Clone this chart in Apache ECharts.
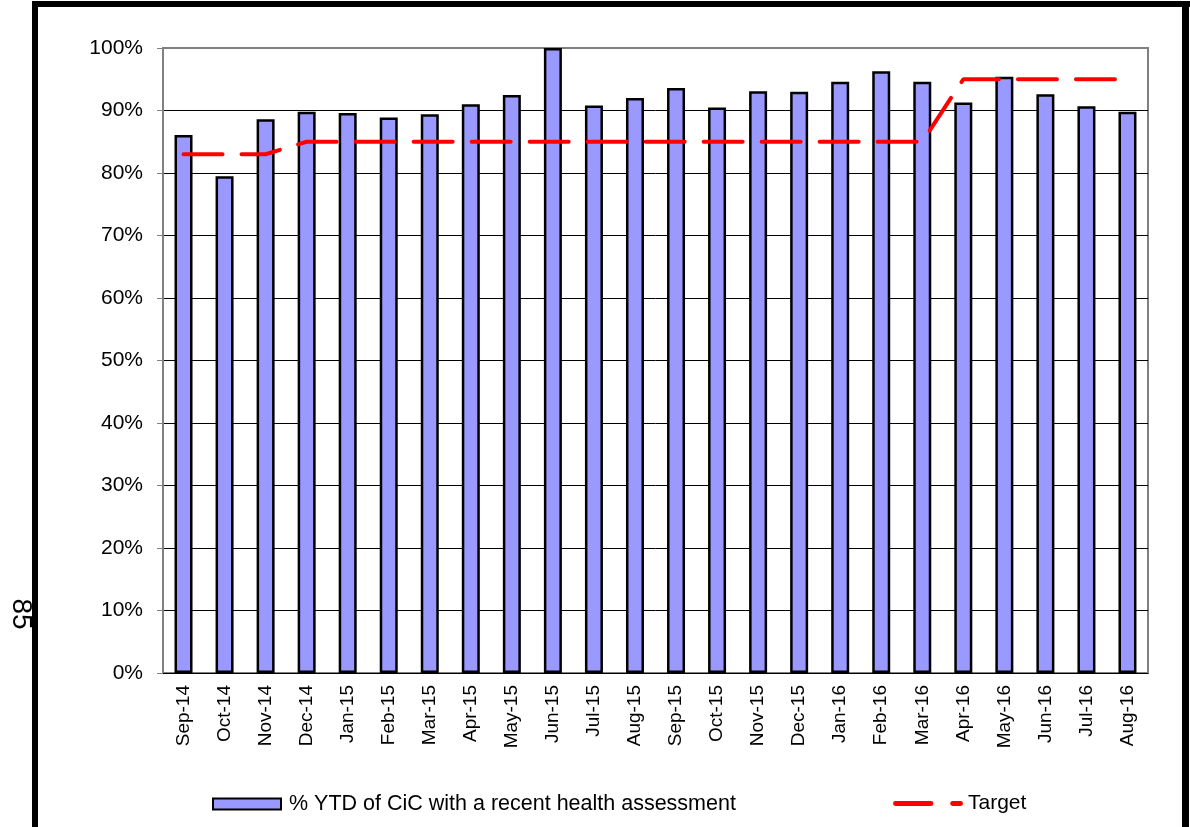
<!DOCTYPE html>
<html>
<head>
<meta charset="utf-8">
<script src="https://cdn.jsdelivr.net/npm/echarts@6/dist/echarts.min.js"></script>
<style>
  html, body { margin: 0; padding: 0; background: #fff; }
  #main { width: 1190px; height: 827px; }
</style>
</head>
<body>
<div id="main"></div>
<script>
// months on the x axis
var months = ['Sep-14', 'Oct-14', 'Nov-14', 'Dec-14', 'Jan-15', 'Feb-15', 'Mar-15', 'Apr-15',
  'May-15', 'Jun-15', 'Jul-15', 'Aug-15', 'Sep-15', 'Oct-15', 'Nov-15', 'Dec-15',
  'Jan-16', 'Feb-16', 'Mar-16', 'Apr-16', 'May-16', 'Jun-16', 'Jul-16', 'Aug-16']

// % YTD of CiC with a recent health assessment
var assessed = [86.1, 79.5, 88.6, 89.8, 89.6, 88.9, 89.4, 91.0, 92.5, 100, 90.8, 92.0,
  93.6, 90.5, 93.1, 93.0, 94.6, 96.3, 94.6, 91.3, 95.4, 92.6, 90.7, 89.8]

// target line
var target = [83, 83, 83, 85, 85, 85, 85, 85, 85, 85, 85, 85,
  85, 85, 85, 85, 85, 85, 85, 95, 95, 95, 95, 95]

var font = 'Arial, "Liberation Sans", sans-serif'

var myChart = echarts.init(document.getElementById('main'))

myChart.setOption({
  animation: false,
  backgroundColor: '#fff',
  grid: {
    left: 163, right: 42, top: 48, bottom: 154,
    show: true, borderColor: '#808080', borderWidth: 2
  },
  legend: [{
    left: 212, top: 793, padding: 0,
    itemWidth: 68, itemHeight: 11,
    textStyle: { fontFamily: font, fontSize: 21.5, color: '#000', padding: [0, 0, 0, 3] },
    data: [{ name: '% YTD of CiC with a recent health assessment', icon: 'rect' }]
  }, {
    left: 893, top: 793, padding: 0,
    itemWidth: 70, itemHeight: 5,
    textStyle: { fontFamily: font, fontSize: 21, color: '#000' },
    data: [{
      name: 'Target',
      icon: 'path://M2,0H38A2,2 0 0 1 38,5H2A2,2 0 0 1 2,0Z M60,0H68A2,2 0 0 1 68,5H60A2,2 0 0 1 60,0Z',
      itemStyle: { color: '#ff0000' }
    }]
  }],
  xAxis: {
    type: 'category',
    data: months,
    axisLine: { lineStyle: { color: '#000', width: 1 } },
    axisTick: { length: 6, lineStyle: { color: '#000' } },
    axisLabel: {
      rotate: 90, margin: 12, interval: 0,
      fontFamily: font, fontSize: 19, color: '#000'
    }
  },
  yAxis: {
    type: 'value',
    min: 0, max: 100, interval: 10,
    axisLine: { show: true, lineStyle: { color: '#808080', width: 2 } },
    axisTick: { show: true, length: 6, lineStyle: { color: '#808080' } },
    axisLabel: {
      formatter: '{value}%', margin: 20,
      fontFamily: font, fontSize: 21, color: '#000'
    },
    splitLine: { showMaxLine: false, lineStyle: { color: '#000', width: 1 } }
  },
  series: [{
    name: '% YTD of CiC with a recent health assessment',
    type: 'bar',
    data: assessed,
    barWidth: 18,
    itemStyle: { color: '#9999ff', borderColor: '#000', borderWidth: 2.5 }
  }, {
    name: 'Target',
    type: 'line',
    data: target,
    symbol: 'none',
    z: 5,
    itemStyle: { color: '#ff0000' },
    lineStyle: { color: '#ff0000', width: 4, type: [39, 19], cap: 'round' }
  }],
  graphic: [{
    type: 'text',
    x: 21, y: 614,
    rotation: -Math.PI / 2,
    style: {
      text: '85', fontFamily: font, fontSize: 28, fill: '#000',
      align: 'center', verticalAlign: 'middle'
    },
    z: 10
  }, {
    type: 'rect', shape: { x: 32, y: 1, width: 6, height: 826 },
    style: { fill: '#000' }, z: 20
  }, {
    type: 'rect', shape: { x: 32, y: 1, width: 1158, height: 6 },
    style: { fill: '#000' }, z: 20
  }, {
    type: 'rect', shape: { x: 1182, y: 1, width: 7, height: 826 },
    style: { fill: '#000' }, z: 20
  }]
})
</script>
</body>
</html>
